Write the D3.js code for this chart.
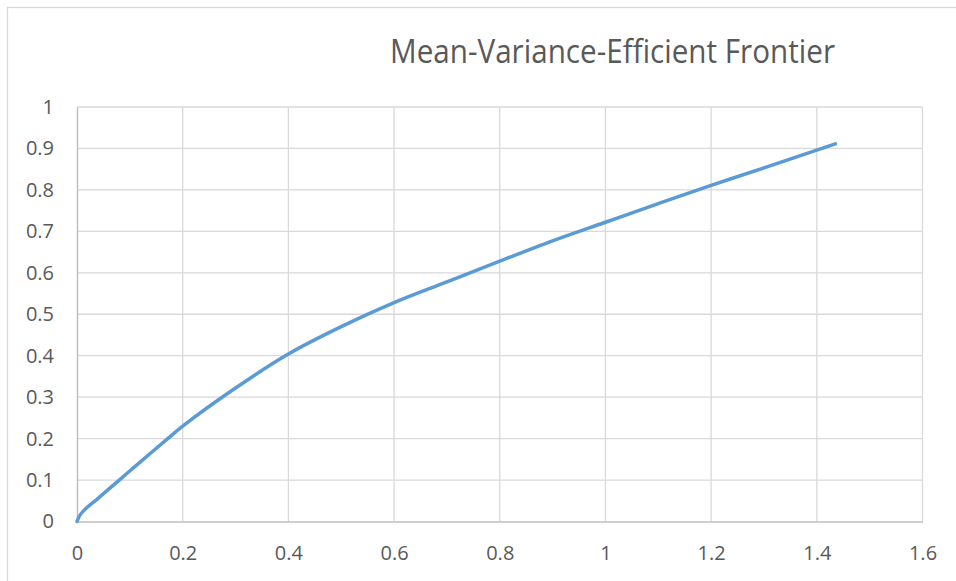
<!DOCTYPE html>
<html lang="en">
<head>
<meta charset="UTF-8">
<title>Mean-Variance-Efficient Frontier</title>
<script src="https://d3js.org/d3.v7.min.js"></script>
<style>
  body { margin: 0; background: #fff; }
  svg { display: block; }
</style>
</head>
<body>
<svg width="956" height="581"></svg>
<script>
let riskValues = [0, 0.006, 0.02, 0.04, 0.08, 0.12, 0.17, 0.2, 0.3, 0.4, 0.5, 0.6, 0.7, 0.8, 0.9, 1.0, 1.1, 1.2, 1.3, 1.435];
let returnValues = [0, 0.016, 0.035, 0.056, 0.1, 0.144, 0.198, 0.23, 0.322, 0.404, 0.47, 0.528, 0.578, 0.628, 0.677, 0.722, 0.767, 0.811, 0.853, 0.911];
let xTicks = [0, 0.2, 0.4, 0.6, 0.8, 1, 1.2, 1.4, 1.6];
let yTicks = [0, 0.1, 0.2, 0.3, 0.4, 0.5, 0.6, 0.7, 0.8, 0.9, 1];
let title = "Mean-Variance-Efficient Frontier";

let points = riskValues.map((r, i) => ({x: r, y: returnValues[i]}));

let svg = d3.select("svg");
let font = "'Open Sans', 'DejaVu Sans', sans-serif";

// chart border
svg.append("rect")
  .attr("x", 7.5).attr("y", 7.5)
  .attr("width", 960).attr("height", 590)
  .attr("fill", "#fff")
  .attr("stroke", "#d9d9d9").attr("stroke-width", 1.3);

let x = d3.scaleLinear().domain([0, 1.6]).range([77, 922.5]);
let y = d3.scaleLinear().domain([0, 1]).range([521.5, 107]);

// gridlines
svg.append("g").selectAll("line")
  .data(yTicks.slice(1)).enter().append("line")
  .attr("x1", x(0)).attr("x2", x(1.6))
  .attr("y1", d => y(d)).attr("y2", d => y(d))
  .attr("stroke", "#d9d9d9").attr("stroke-width", 1.3);
svg.append("g").selectAll("line")
  .data(xTicks.slice(1)).enter().append("line")
  .attr("x1", d => x(d)).attr("x2", d => x(d))
  .attr("y1", y(0)).attr("y2", y(1))
  .attr("stroke", "#d9d9d9").attr("stroke-width", 1.3);

// axes
let xAxis = svg.append("g")
  .attr("transform", `translate(0,${y(0)})`)
  .call(d3.axisBottom(x).tickValues(xTicks).tickSize(0).tickPadding(24).tickFormat(d3.format("")));
let yAxis = svg.append("g")
  .attr("transform", `translate(${x(0)},0)`)
  .call(d3.axisLeft(y).tickValues(yTicks).tickSize(0).tickPadding(23).tickFormat(d3.format("")));
[xAxis, yAxis].forEach(a => {
  a.select(".domain").attr("stroke", "#bfbfbf").attr("stroke-width", 1.5);
  a.selectAll("text")
    .attr("fill", "#595959")
    .style("font-family", font)
    .style("font-size", "20px");
});

// frontier curve
let line = d3.line()
  .x(d => x(d.x))
  .y(d => y(d.y))
  .curve(d3.curveCatmullRom.alpha(0.5));
svg.append("path")
  .datum(points)
  .attr("d", line)
  .attr("fill", "none")
  .attr("stroke", "#5b9bd5")
  .attr("stroke-width", 3.5)
  .attr("stroke-linecap", "round")
  .attr("stroke-linejoin", "round");

// title
svg.append("text")
  .attr("x", 390).attr("y", 63)
  .attr("textLength", 445)
  .attr("lengthAdjust", "spacingAndGlyphs")
  .attr("fill", "#595959")
  .style("font-family", font)
  .style("font-size", "33px")
  .text(title);
</script>
</body>
</html>
